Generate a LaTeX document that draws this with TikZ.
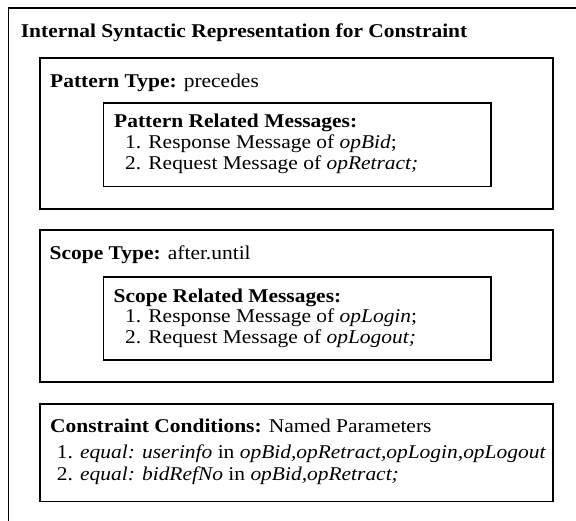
\documentclass[tikz,border=0pt]{standalone}
\usepackage{fontspec}
\setmainfont[FakeStretch=1.1]{Liberation Serif}
\begin{document}
\begin{tikzpicture}[x=1pt,y=-1pt,
  frame/.style={draw, line width=1.6pt},
  box/.style={draw, line width=1.6pt, anchor=north west, inner sep=0pt},
  txt/.style={anchor=base west, inner sep=0pt, font=\fontsize{19.5}{21}\selectfont}]
\useasboundingbox (0,0) rectangle (576,521);
% outer frame (cropped on the right and bottom)
\coordinate (obl) at (8.3,521);
\coordinate (otl) at (8.3,7.8);
\coordinate (otr) at (576,7.8);
\draw[frame] (obl) -- (otl) -- (otr);
\node[txt] (title) at (20.7,37.7) {\textbf{Internal Syntactic Representation for Constraint}};
% pattern
\node[box, minimum width=513.3pt, minimum height=151pt] (pattern) at (39,57.3) {};
\node[txt] (ptype) at (50,87.3) {\textbf{Pattern Type:} precedes};
\node[box, minimum width=387.7pt, minimum height=83.4pt] (pmsg) at (102.5,102.3) {};
\node[txt] (pmh) at (114,127.8) {\textbf{Pattern Related Messages:}};
\node[txt] (pm1) at (125,148.5) {1. Response Message of \textit{opBid};};
\node[txt] (pm2) at (125,169.2) {2. Request Message of \textit{opRetract;}};
% scope
\node[box, minimum width=513.3pt, minimum height=151.7pt] (scope) at (39,229.3) {};
\node[txt] (stype) at (49.5,259.3) {\textbf{Scope Type:} after.until};
\node[box, minimum width=387.7pt, minimum height=83pt] (smsg) at (102.5,276) {};
\node[txt] (smh) at (113.5,302.3) {\textbf{Scope Related Messages:}};
\node[txt] (sm1) at (125,323) {1. Response Message of \textit{opLogin};};
\node[txt] (sm2) at (125,343.7) {2. Request Message of \textit{opLogout;}};
% constraint conditions
\node[box, minimum width=513.3pt, minimum height=97.4pt] (cond) at (39,403.3) {};
\node[txt] (ch) at (50,432.3) {\textbf{Constraint Conditions:} Named Parameters};
\node[txt] (c1) at (56.7,458.3) {1. \textit{equal: userinfo} in \textit{opBid,opRetract,opLogin,opLogout}};
\node[txt] (c2) at (56.7,480) {2. \textit{equal: bidRefNo} in \textit{opBid,opRetract;}};
\end{tikzpicture}
\end{document}
